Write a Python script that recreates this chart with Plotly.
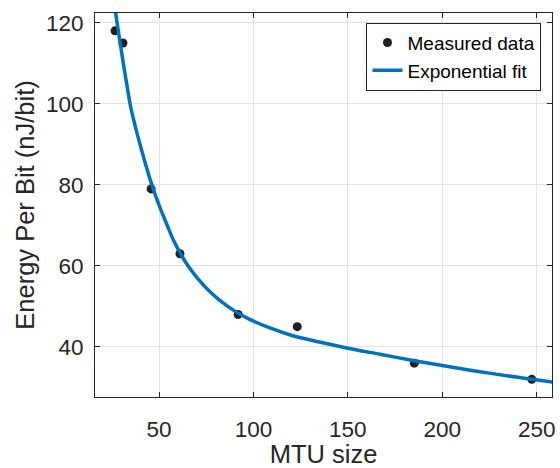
import plotly.graph_objects as go

mtu_size = [26.7, 30.9, 45.8, 61.1, 91.9, 123.2, 185.2, 247.4]
energy_per_bit = [118, 115, 79, 63, 48, 45, 36, 32]

# Exponential fit curve
fit_x = [26, 27, 28, 29, 30, 31.5, 33, 35, 37.5, 40, 43, 46, 50, 54, 58, 62, 66,
         71, 77, 83, 90, 98, 108, 120, 135, 150, 167, 183, 200, 220, 240, 259]
fit_y = [125.6, 122.5, 119.4, 116.3, 113.3, 108.8, 104.6, 99.2, 94.3, 89.9, 84.9,
         80.3, 75.0, 70.4, 66.0, 62.5, 59.6, 56.6, 53.6, 51.2, 48.9, 46.8, 44.8,
         42.9, 41.2, 39.7, 38.2, 36.8, 35.4, 33.9, 32.5, 31.3]

x_ticks = [50, 100, 150, 200, 250]
y_ticks = [40, 60, 80, 100, 120]

FONT = "Liberation Sans, Arial, sans-serif"
DARK = "#262626"
GRID = "#e3e3e3"

fig = go.Figure()
fig.add_trace(go.Scatter(
    x=mtu_size, y=energy_per_bit, mode="markers", name="Measured data",
    marker=dict(color="#1f1f1f", size=9),
))
fig.add_trace(go.Scatter(
    x=fit_x, y=fit_y, mode="lines", name="Exponential fit",
    line=dict(color="#0072BD", width=3.5, shape="spline", smoothing=1.0),
))

axis_common = dict(
    showgrid=True, gridcolor=GRID, gridwidth=1,
    showline=True, linecolor=DARK, linewidth=1, mirror="ticks",
    ticks="inside", ticklen=5, tickcolor=DARK, tickwidth=1,
    zeroline=False, automargin=False,
    tickfont=dict(family=FONT, size=22.5, color=DARK),
)

fig.update_layout(
    width=560, height=468,
    margin=dict(l=95, r=8, t=13, b=71),
    paper_bgcolor="white", plot_bgcolor="white",
    font=dict(family=FONT, color=DARK),
    showlegend=True,
    legend=dict(
        x=0.977, y=0.975, xanchor="right", yanchor="top",
        bgcolor="white", bordercolor=DARK, borderwidth=1,
        font=dict(family=FONT, size=19, color="#000000"),
        tracegroupgap=0,
    ),
    xaxis=dict(
        range=[16.1, 258.1], tickvals=x_ticks,
        title=dict(text="MTU size", font=dict(family=FONT, size=25.5, color=DARK), standoff=8),
        ticklabelstandoff=12,
        **axis_common,
    ),
    yaxis=dict(
        range=[27.65, 122.4], tickvals=y_ticks,
        title=dict(text="Energy Per Bit (nJ/bit)", font=dict(family=FONT, size=25.5, color=DARK), standoff=4),
        ticklabelstandoff=6,
        **axis_common,
    ),
)

fig.write_html("out.html")
